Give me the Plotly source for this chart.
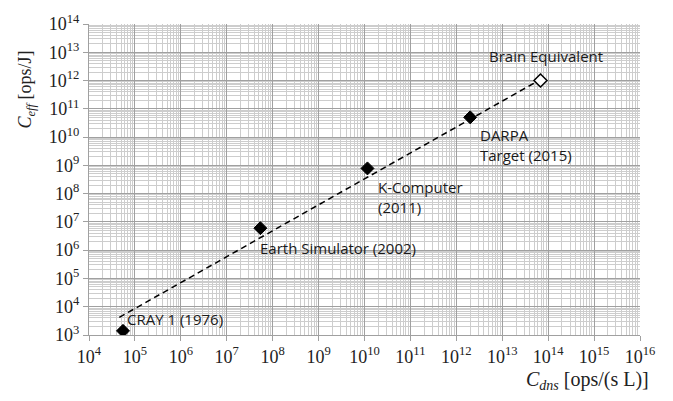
import math
import plotly.graph_objects as go

# Systems: computational density vs. energy efficiency
systems = ["CRAY 1 (1976)", "Earth Simulator (2002)", "K-Computer<br>(2011)",
           "DARPA<br>Target (2015)", "Brain Equivalent"]
c_dns = [5.5e4, 5.4e7, 1.16e10, 2.0e12, 6.8e13]      # ops/(s L)
c_eff = [1.4e3, 6.0e6, 7.8e8, 5.0e10, 1.0e12]        # ops/J

# Trend line end points
trend_x = [4.57e4, 5.2e13]
trend_y = [4.2e3, 8.5e11]

# Axis decades
x_decades = list(range(4, 17))
y_decades = list(range(3, 15))
x_ticktext = [f"10<sup>{d}</sup>" for d in x_decades]
y_ticktext = [f"10<sup>{d}</sup>" for d in y_decades]

fig = go.Figure()

fig.add_trace(go.Scatter(
    x=trend_x, y=trend_y, mode="lines",
    line=dict(color="black", width=1.5, dash="6px,4px"),
    hoverinfo="skip", showlegend=False,
))

fig.add_trace(go.Scatter(
    x=c_dns[:-1], y=c_eff[:-1], mode="markers",
    marker=dict(symbol="diamond", size=10, color="black",
                line=dict(color="black", width=1)),
    showlegend=False,
))
fig.add_trace(go.Scatter(
    x=c_dns[-1:], y=c_eff[-1:], mode="markers",
    marker=dict(symbol="diamond", size=10, color="white",
                line=dict(color="black", width=1.5)),
    showlegend=False,
))

# Point labels, offset from each marker (pixels); log axes take log10 positions
label_shift = [(2, 12), (-2, -20), (9, -29), (8, -28), (-53, 25)]
for name, x, y, (dx, dy) in zip(systems, c_dns, c_eff, label_shift):
    fig.add_annotation(
        x=math.log10(x), y=math.log10(y), xref="x", yref="y",
        text=name, showarrow=False,
        xanchor="left", yanchor="middle", align="left",
        xshift=dx, yshift=dy,
        font=dict(family="Open Sans", size=15, color="#1a1a1a"),
    )

axis_common = dict(
    type="log",
    showgrid=True, gridcolor="#a0a0a0", gridwidth=1,
    showline=True, linecolor="#a0a0a0", linewidth=1,
    ticks="outside", ticklen=5, tickcolor="#a0a0a0",
    tickfont=dict(family="Liberation Serif", size=18, color="#222"),
    zeroline=False,
)

fig.update_xaxes(
    **axis_common,
    range=[4, 16],
    tickvals=[10 ** d for d in x_decades], ticktext=x_ticktext,
    minor=dict(dtick="D1", showgrid=True, gridcolor="#cdcdcd", gridwidth=1, ticks=""),
)
fig.update_yaxes(
    **axis_common,
    range=[3, 14],
    tickvals=[10 ** d for d in y_decades], ticktext=y_ticktext,
    minor=dict(dtick="D1", showgrid=True, gridcolor="#cdcdcd", gridwidth=1, ticks=""),
)

# Axis titles
fig.add_annotation(
    x=-0.114, y=0.79, xref="paper", yref="paper", xanchor="center", yanchor="middle",
    text="<i>C</i><sub><i>eff</i></sub> [ops/J]", textangle=-90, showarrow=False,
    font=dict(family="Liberation Serif", size=18, color="#222"),
)
fig.add_annotation(
    x=1.02, y=-0.145, xref="paper", yref="paper", xanchor="right", yanchor="middle",
    text="<i>C</i><sub><i>dns</i></sub> [ops/(s L)]", showarrow=False,
    font=dict(family="Liberation Serif", size=20, color="#222"),
)

fig.update_layout(
    width=673, height=401,
    margin=dict(l=89, r=33, t=13, b=66),
    paper_bgcolor="white", plot_bgcolor="white",
    showlegend=False,
)

fig.write_html("out.html")
